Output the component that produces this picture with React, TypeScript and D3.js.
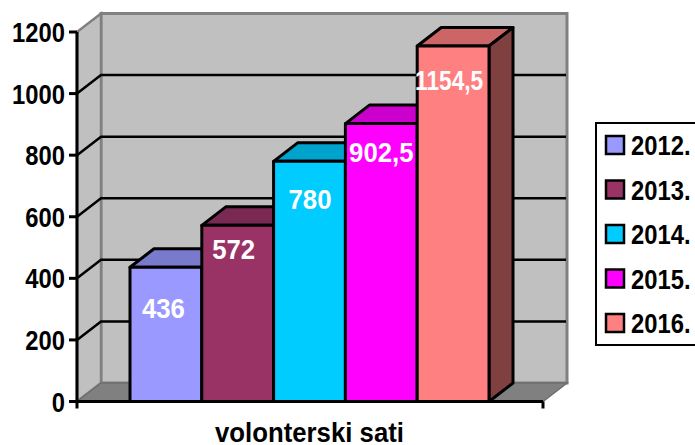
import * as d3 from "d3";

const years = ["2012.", "2013.", "2014.", "2015.", "2016."];
const hours = [436, 572, 780, 902.5, 1154.5];
const hourLabels = ["436", "572", "780", "902,5", "1154,5"];
const yTicks = [0, 200, 400, 600, 800, 1000, 1200];
const frontColors = ["#9999ff", "#993366", "#00ccff", "#ff00ff", "#ff8080"];
const topColors = ["#7a7acc", "#7a2952", "#00a3cc", "#cc00cc", "#cc6666"];
const sideColors = ["#5c5c99", "#5c1f3d", "#007a99", "#990099", "#804040"];
// the labels sit by hand in the original, so nudge each one off its bar
const labelDrops = [41, 24, 37.5, 28.5, 34];
const labelShifts = [-2.5, -4, 0.5, 0, -4];
const labelSqueeze = [0.92, 0.92, 0.92, 0.92, 0.81];

const font = "'Liberation Sans', Arial, sans-serif";
const depthX = 24;
const depthY = 18.5;
const left = 77;
const right = 543;

const y = d3.scaleLinear().domain([0, 1200]).range([401.5, 32]);
const x = d3.scaleBand().domain(years).range([130, 489]);
const poly = (pts: number[][]) => d3.line()(pts as [number, number][]) + "Z";

// no narrow bold face is installed, so squeeze the regular bold one
function Narrow({ x, y, anchor = "start", size = 28, squeeze = 0.85, fill = "#000", children }: any) {
  return (
    <text
      transform={`translate(${x},${y}) scale(${squeeze},1)`}
      textAnchor={anchor}
      fontSize={size}
      fill={fill}
    >
      {children}
    </text>
  );
}

export default function App() {
  const base = y(0);
  const top = y(1200);
  return (
    <svg
      width={695}
      height={445}
      viewBox="0 0 695 445"
      style={{ position: "absolute", left: 0, top: 0 }}
      fontFamily={font}
      fontWeight="bold"
    >
      <rect width={695} height={445} fill="#fff" />
      {/* walls */}
      <path
        d={poly([[left + depthX, top - depthY], [right + depthX, top - depthY], [right + depthX, base - depthY], [left + depthX, base - depthY]])}
        fill="#c0c0c0"
        stroke="#808080"
        strokeWidth={3}
      />
      <path
        d={poly([[left, top], [left + depthX, top - depthY], [left + depthX, base - depthY], [left, base]])}
        fill="#c0c0c0"
        stroke="#808080"
        strokeWidth={2.5}
      />
      <path
        d={poly([[left, base], [left + depthX, base - depthY], [right + depthX, base - depthY], [right, base]])}
        fill="#808080"
        stroke="#6e6e6e"
        strokeWidth={1.5}
      />
      {/* gridlines */}
      {yTicks.slice(1, -1).map((t) => (
        <path
          key={t}
          d={d3.line()([[left, y(t)], [left + depthX, y(t) - depthY], [right + depthX - 1, y(t) - depthY]])!}
          fill="none"
          stroke="#000"
          strokeWidth={2.5}
        />
      ))}
      {/* bars */}
      {years.map((yr, i) => {
        const x0 = x(yr)!;
        const x1 = x0 + x.bandwidth();
        const yTop = y(hours[i]);
        return (
          <g key={yr} stroke="#000" strokeWidth={3} strokeLinejoin="round">
            <path
              d={poly([[x0, yTop], [x0 + depthX, yTop - depthY], [x1 + depthX, yTop - depthY], [x1, yTop]])}
              fill={topColors[i]}
            />
            <path
              d={poly([[x1, yTop], [x1 + depthX, yTop - depthY], [x1 + depthX, base - depthY], [x1, base]])}
              fill={sideColors[i]}
            />
            <rect x={x0} y={yTop} width={x.bandwidth()} height={base - yTop} fill={frontColors[i]} />
          </g>
        );
      })}
      {/* axes */}
      <path d={`M${left},${top}V${base + 7}`} stroke="#000" strokeWidth={3} fill="none" />
      <path d={`M${left},${base}H${right}`} stroke="#000" strokeWidth={3} fill="none" />
      <path d={`M${right},${base}V${base + 7}`} stroke="#000" strokeWidth={3} fill="none" />
      {yTicks.map((t) => (
        <g key={t}>
          <path d={`M${left - 8},${y(t)}H${left}`} stroke="#000" strokeWidth={3} />
          <Narrow x={65} y={y(t) + 10} anchor="end">
            {t}
          </Narrow>
        </g>
      ))}
      {/* bar labels */}
      {years.map((yr, i) => (
        <Narrow
          key={yr}
          x={x(yr)! + x.bandwidth() / 2 + labelShifts[i]}
          y={y(hours[i]) + labelDrops[i] + 10}
          anchor="middle"
          squeeze={labelSqueeze[i]}
          fill="#fff"
        >
          {hourLabels[i]}
        </Narrow>
      ))}
      <Narrow x={309.5} y={442} anchor="middle" squeeze={0.92}>
        volonterski sati
      </Narrow>
      {/* legend */}
      <rect x={596} y={123} width={110} height={222} fill="#fff" stroke="#000" strokeWidth={2} />
      {years.map((yr, i) => (
        <g key={yr} transform={`translate(0,${146 + i * 44.5})`}>
          <rect x={606} y={-10} width={18} height={18} fill={frontColors[i]} stroke="#000" strokeWidth={2.5} />
          <Narrow x={631} y={9}>
            {yr}
          </Narrow>
        </g>
      ))}
    </svg>
  );
}
